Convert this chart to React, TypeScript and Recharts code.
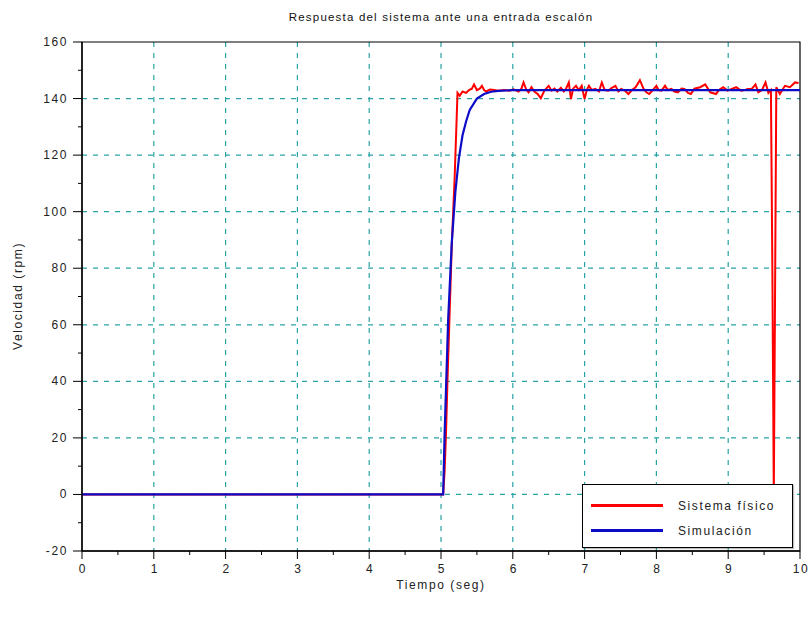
import React from "react"
import {
  LineChart, Line, XAxis, YAxis, CartesianGrid, Legend, ReferenceArea, Customized,
} from "recharts"

// Sistema físico (medido)
const redTime = [
  0, 5.03, 5.05, 5.07, 5.09, 5.11, 5.13, 5.15, 5.17, 5.19, 5.21, 5.23, 5.26, 5.3, 5.35, 5.39, 5.43, 5.46,
  5.5, 5.54, 5.57, 5.6, 5.63, 5.68, 5.74, 5.8, 5.88, 5.95, 6.01, 6.08, 6.12, 6.15, 6.19, 6.22, 6.26,
  6.3, 6.35, 6.39, 6.44, 6.5, 6.54, 6.58, 6.62, 6.67, 6.71, 6.74, 6.78, 6.81, 6.84, 6.88, 6.92, 6.96,
  7.0, 7.03, 7.06, 7.1, 7.15, 7.2, 7.24, 7.28, 7.33, 7.38, 7.43, 7.47, 7.51, 7.56, 7.61, 7.66, 7.71,
  7.77, 7.82, 7.86, 7.9, 7.95, 8.0, 8.03, 8.07, 8.12, 8.16, 8.21, 8.25, 8.3, 8.35, 8.39, 8.44, 8.48,
  8.53, 8.61, 8.68, 8.75, 8.83, 8.87, 8.93, 8.99, 9.05, 9.11, 9.18, 9.23, 9.27, 9.33, 9.38, 9.42,
  9.47, 9.52, 9.56, 9.595, 9.615, 9.635, 9.65, 9.67, 9.72, 9.79, 9.86, 9.93, 9.98,
]
const redSpeed = [
  0, 0, 8, 22, 40, 56, 72, 88, 100, 112, 127, 142, 141, 142.5, 142, 143, 143.5, 145,
  143, 143.5, 144.5, 143, 142.5, 143.2, 143, 142.8, 143, 142.8, 143.3, 142.5, 143.5, 145.7, 143, 142.2, 144,
  142.5, 141.5, 140.1, 142.8, 144.5, 142.8, 143.5, 142.5, 143.8, 142.5, 143.4, 145.7, 139.8, 143.5, 144.5, 143, 144.5,
  139.8, 143, 144.5, 143, 143.4, 142.5, 145.7, 143, 142.8, 143.8, 144.5, 142.5, 143.4, 142.8, 141.6, 143, 144,
  146.5, 143.5, 142.2, 141.6, 143, 144.5, 143, 142.8, 144.5, 143, 143.4, 142.5, 142.2, 143.5, 143.4, 142, 141.6,
  143.5, 144, 145, 142.2, 141.6, 143, 144, 142.8, 143.4, 144, 142.8, 143, 143.4, 143.5, 145, 142.2,
  143, 145.7, 142, 143, 80, 0, 60, 144, 141.6, 144.5, 144, 145.7, 145.5,
]

// Simulación
const blueTime = [0, 5.03, 5.05, 5.1, 5.15, 5.2, 5.25, 5.3, 5.35, 5.4, 5.5, 5.6, 5.7, 5.8, 6.0, 10]
const blueSpeed = [0, 0, 21, 62, 89, 107, 119, 127, 132, 136, 140, 141.6, 142.4, 142.7, 143, 143]

const xTicks = [0, 0.5, 1, 1.5, 2, 2.5, 3, 3.5, 4, 4.5, 5, 5.5, 6, 6.5, 7, 7.5, 8, 8.5, 9, 9.5, 10]
const yTicks = [-20, -10, 0, 10, 20, 30, 40, 50, 60, 70, 80, 90, 100, 110, 120, 130, 140, 150, 160]
const xGrid = [1, 2, 3, 4, 5, 6, 7, 8, 9]
const yGrid = [0, 20, 40, 60, 80, 100, 120, 140]

const seriesNames = ["Sistema físico", "Simulación"]
const title = "Respuesta del sistema ante una entrada escalón"
const xLabel = "Tiempo (seg)"
const yLabel = "Velocidad (rpm)"

const RED = "#ff0000"
const BLUE = "#0c0cc8"
const GRID = "#2aa3a6"
const FONT = "'Liberation Sans', Arial, sans-serif"

const redData = redTime.map((t, i) => ({ t, v: redSpeed[i] }))
const blueData = blueTime.map((t, i) => ({ t, v: blueSpeed[i] }))

const textStyle = { fontFamily: FONT, fontSize: 12, letterSpacing: 1.6, fill: "#222" }

function XTick(props: any) {
  const { x, y, payload } = props
  const major = Number.isInteger(payload.value)
  return (
    <g>
      <line x1={x} x2={x} y1={y} y2={y + (major ? 8 : 4)} stroke="#000" />
      {major && (
        <text x={x + 1} y={y + 22} textAnchor="middle" style={textStyle}>{payload.value}</text>
      )}
    </g>
  )
}

function YTick(props: any) {
  const { x, y, payload } = props
  const major = payload.value % 20 === 0
  return (
    <g>
      <line x1={x - (major ? 9 : 4)} x2={x} y1={y} y2={y} stroke="#000" />
      {major && (
        <text x={x - 14} y={y + 4} textAnchor="end" style={textStyle}>{payload.value}</text>
      )}
    </g>
  )
}

function LegendBox() {
  const colors = [RED, BLUE]
  return (
    <div style={{
      width: 211, height: 64, boxSizing: "border-box", border: "1px solid #000",
      background: "#fff", boxShadow: "1px 1px 1px rgba(0,0,0,0.25)", paddingTop: 8,
    }}>
      {seriesNames.map((name, i) => (
        <div key={name} style={{ display: "flex", alignItems: "center", height: 25 }}>
          <div style={{ marginLeft: 8, width: 72, height: 2.5, background: colors[i] }} />
          <span style={{
            marginLeft: 15, fontFamily: FONT, fontSize: 12, letterSpacing: 1.6, color: "#222",
          }}>{name}</span>
        </div>
      ))}
    </div>
  )
}

function Texts() {
  return (
    <g>
      <text x={441} y={21} textAnchor="middle" style={{ ...textStyle, fontSize: 11.5, letterSpacing: 1.2, fill: "#111" }}>
        {title}
      </text>
      <text x={441} y={589} textAnchor="middle" style={textStyle}>{xLabel}</text>
      <text
        x={22} y={296} textAnchor="middle" transform="rotate(-90 22 296)" style={textStyle}
      >{yLabel}</text>
    </g>
  )
}

export default function App() {
  return (
    <div style={{ position: "absolute", left: 0, top: 0, width: 809, height: 618, background: "#fff" }}>
      <LineChart width={809} height={618} margin={{ top: 42, right: 9, bottom: 37, left: 22 }}>
        <CartesianGrid
          horizontalValues={yGrid}
          verticalValues={xGrid}
          stroke={GRID}
          strokeDasharray="5 6"
          strokeWidth={1.2}
        />
        <XAxis
          type="number"
          dataKey="t"
          domain={[0, 10]}
          ticks={xTicks}
          interval={0}
          allowDataOverflow
          height={30}
          tickSize={0}
          tickMargin={0}
          tickLine={false}
          axisLine={{ stroke: "#000", strokeWidth: 1.3 }}
          tick={<XTick />}
        />
        <YAxis
          type="number"
          dataKey="v"
          domain={[-20, 160]}
          ticks={yTicks}
          interval={0}
          allowDataOverflow
          width={60}
          tickSize={0}
          tickMargin={0}
          tickLine={false}
          axisLine={{ stroke: "#000", strokeWidth: 1.3 }}
          tick={<YTick />}
        />
        <ReferenceArea x1={0} x2={10} y1={-20} y2={160} fill="none" stroke="#000" strokeWidth={1.2} />
        <Line
          data={redData}
          dataKey="v"
          name={seriesNames[0]}
          type="linear"
          stroke={RED}
          strokeWidth={2}
          dot={false}
          isAnimationActive={false}
        />
        <Line
          data={blueData}
          dataKey="v"
          name={seriesNames[1]}
          type="linear"
          stroke={BLUE}
          strokeWidth={2.2}
          dot={false}
          isAnimationActive={false}
        />
        <Legend
          layout="horizontal"
          verticalAlign="middle"
          align="center"
          wrapperStyle={{ left: 582, top: 484, width: 211, height: 64 }}
          content={() => <LegendBox />}
        />
        <Customized component={<Texts />} />
      </LineChart>
    </div>
  )
}
